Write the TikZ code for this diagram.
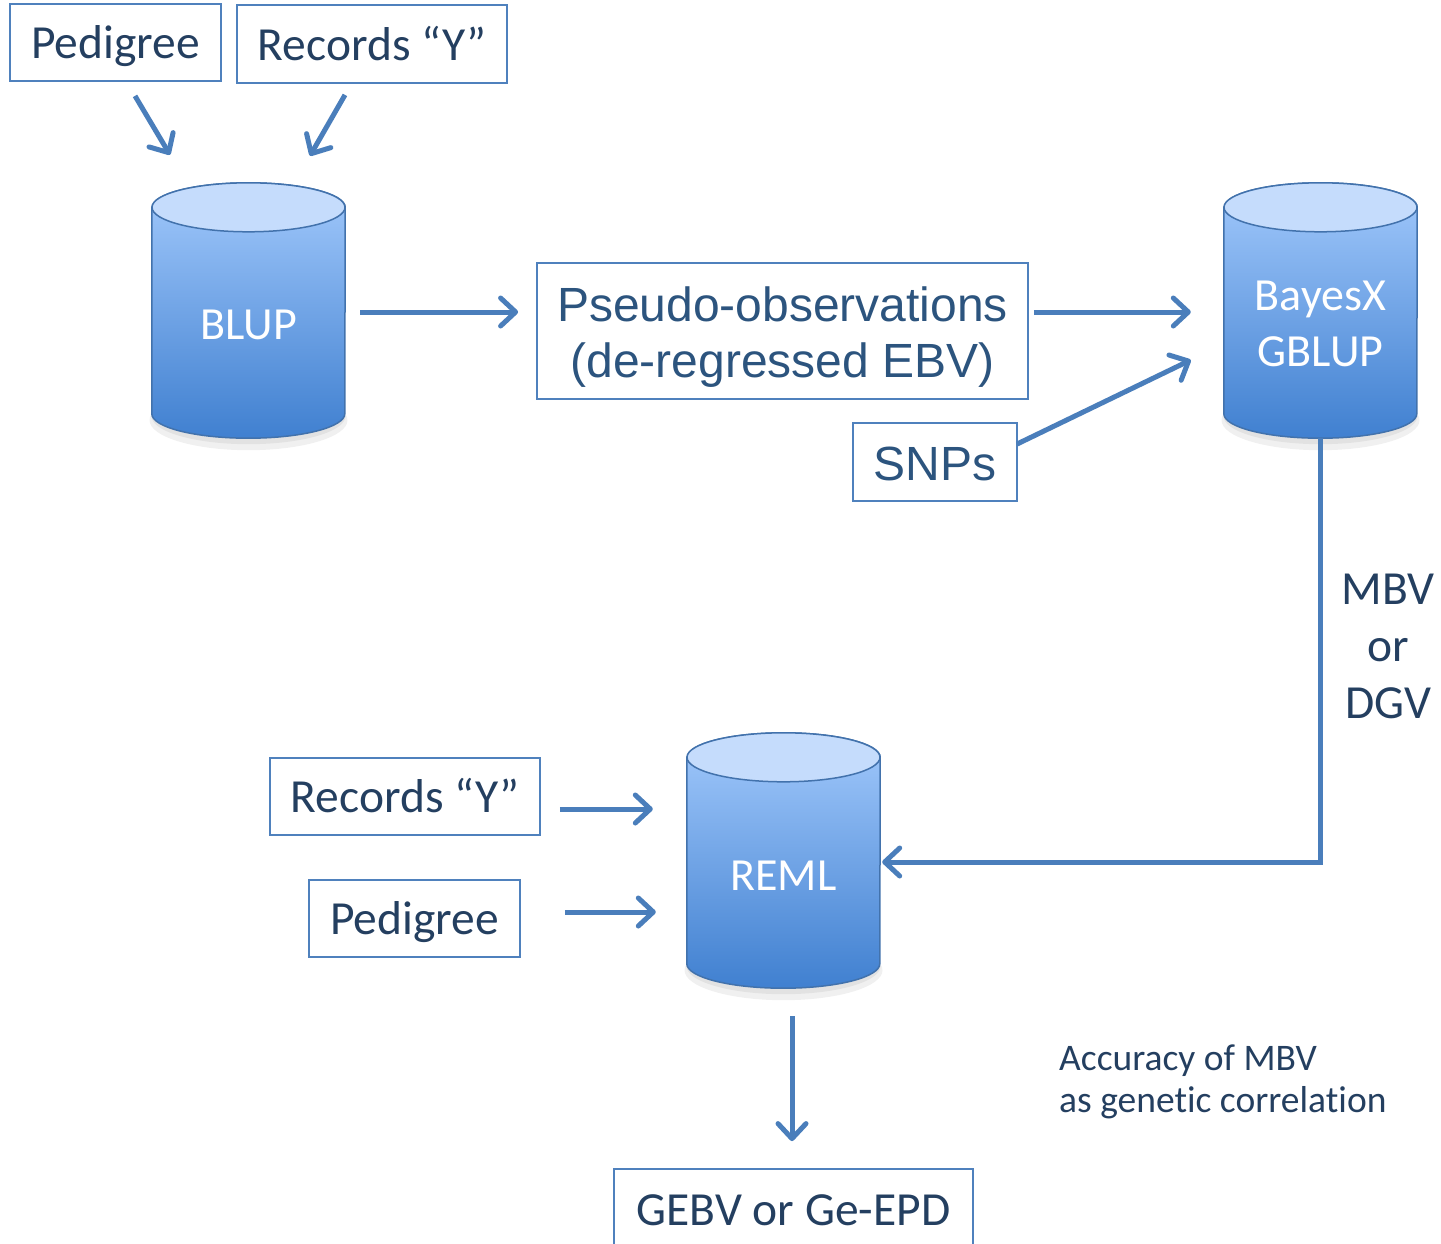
\documentclass[tikz,border=0pt]{standalone}
\usepackage{fontspec}
\setmainfont{Carlito}[Ligatures=NoCommon]
\newfontfamily\arialf{Liberation Sans}
\usetikzlibrary{arrows.meta}
\definecolor{boxline}{RGB}{79,129,189}
\definecolor{arrowc}{RGB}{74,126,187}
\definecolor{txt}{RGB}{36,63,96}
\definecolor{txtb}{RGB}{44,84,126}
\definecolor{cyltop}{RGB}{197,220,252}
\definecolor{cylA}{RGB}{162,201,252}
\definecolor{cylB}{RGB}{64,128,208}
\definecolor{cylline}{RGB}{66,114,172}
\newcommand\mycyl[1]{%
  \fill[black,opacity=0.06] ([shift={(0,-18)}]#1.south) ellipse [x radius=99, y radius=30];
  \fill[black,opacity=0.06] ([shift={(0,-22)}]#1.south) ellipse [x radius=97, y radius=28];
  \path[draw=cylline, line width=1.5pt, top color=cylA, bottom color=cylB]
    ([shift={(0,24.5)}]#1.north west) -- ([shift={(0,-24.5)}]#1.south west)
    arc[start angle=180, end angle=0, x radius=96.5, y radius=24.5]
    -- ([shift={(0,24.5)}]#1.north east)
    arc[start angle=0, end angle=-180, x radius=96.5, y radius=24.5] -- cycle;
  \draw[cylline, line width=1.5pt, fill=cyltop] ([shift={(0,24.5)}]#1.north) ellipse [x radius=96.5, y radius=24.5];
}
\begin{document}
\begin{tikzpicture}[x=1pt,y=-1pt,
  box/.style={draw=boxline, line width=1.8pt, inner sep=0, text=txt,
    font=\fontsize{47.5}{56}\selectfont, text height=32pt, text depth=0pt},
  abox/.style={draw=boxline, line width=1.8pt, inner sep=0, text=txtb, align=center,
    font=\arialf\fontsize{48}{56}\selectfont, text height=36pt, text depth=0pt},
  arr/.style={draw=arrowc, line width=5pt, -{Straight Barb[length=15pt,width=28pt,round]}},
  cylnode/.style={minimum width=193pt, minimum height=255pt, inner sep=0, text=white,
    align=center, font=\fontsize{46}{56.5}\selectfont, text height=54pt, text depth=0pt},
  plain/.style={inner sep=0, text=txt}
]
\useasboundingbox (0,0) rectangle (1441,1243);

% boxes
\node[box, minimum width=211pt, minimum height=77pt] (ped1) at (115.5,42.5) {Pedigree};
\node[box, minimum width=270pt, minimum height=78pt] (rec1) at (372,44) {Records “Y”};
\node[abox, minimum width=491pt, minimum height=136pt, text height=92pt] (pseudo) at (782.5,331) {Pseudo-observations\\(de-regressed EBV)};
\node[abox, minimum width=164pt, minimum height=78pt] (snp) at (935,462) {SNPs};
\node[box, minimum width=270pt, minimum height=77pt] (rec2) at (405,796.5) {Records “Y”};
\node[box, minimum width=211pt, minimum height=77pt] (ped2) at (414.5,918.5) {Pedigree};
\node[box, minimum width=359pt, minimum height=80pt] (gebv) at (793.5,1209) {GEBV or Ge-EPD};

% cylinders
\node[cylnode] (blup) at (248.5,310.5) {};
\mycyl{blup}
\node[cylnode, text height=57pt] at (blup) {BLUP};
\node[cylnode] (bayes) at (1320.5,310.5) {};
\mycyl{bayes}
\node[cylnode, text height=112pt] at (bayes) {BayesX\\GBLUP};
\node[cylnode] (reml) at (783.5,860.5) {};
\mycyl{reml}
\node[cylnode, text height=60pt] at (reml) {REML};

% free texts
\node[plain, anchor=north, align=center, font=\fontsize{47.5}{57}\selectfont, text height=146pt, text depth=0pt] (mbv) at (1388,572.5) {MBV\\or\\DGV};
\node[plain, anchor=north west, align=left, font=\fontsize{37.5}{42}\selectfont, text height=67pt, text depth=0pt] (acc) at (1059,1045) {Accuracy of MBV\\as genetic correlation};

% arrows
\draw[arr] ([shift={(19.5,14)}]ped1.south) -- ([shift={(-78.5,-28)}]blup.north);
\draw[arr] ([shift={(-27,11)}]rec1.south) -- ([shift={(61.5,-27)}]blup.north);
\draw[arr] ([shift={(15,1.5)}]blup.east) -- ([shift={(-18,-19)}]pseudo.west);
\draw[arr] ([shift={(5,-19)}]pseudo.east) -- ([shift={(-33,1.5)}]bayes.west);
\draw[arr] ([shift={(-1,22)}]snp.north east) -- ([shift={(-33,49.5)}]bayes.west);
\draw[arr] (bayes.south) |- ([shift={(2,1.5)}]reml.east);
\draw[arr] ([shift={(19,12.5)}]rec2.east) -- ([shift={(-34,-51.5)}]reml.west);
\draw[arr] ([shift={(44,-6.5)}]ped2.east) -- ([shift={(-31,51.5)}]reml.west);
\draw[arr] ([shift={(8.5,28)}]reml.south) -- ([shift={(-1.5,-27)}]gebv.north);
\end{tikzpicture}
\end{document}
